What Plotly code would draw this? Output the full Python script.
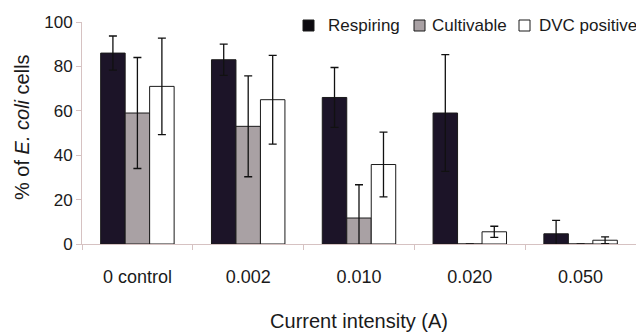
import plotly.graph_objects as go

categories = ["0 control", "0.002", "0.010", "0.020", "0.050"]
respiring = [86, 83, 66, 59, 4.6]
respiring_err = [7.7, 7, 13.5, 26.3, 6]
cultivable = [59, 53, 11.7, 0, 0]
cultivable_err = [25, 22.7, 15, 0, 0]
dvc_positive = [71, 65, 35.8, 5.5, 1.7]
dvc_err = [21.7, 20, 14.6, 2.5, 1.5]
y_ticks = [0, 20, 40, 60, 80, 100]
series_names = ["Respiring", "Cultivable", "DVC positive"]

FONT = "Liberation Sans, Arial, sans-serif"
TXT = "#1a1a1a"
AXC = "#d6c2c2"
COLORS = ["#1c1428", "#a9a1a4", "#ffffff"]
LEG_COLORS = ["#0c0a10", "#a9a1a4", "#ffffff"]

W, H = 636, 332
ML, MR, MT, MB = 82, 0, 22, 88
PW, PH = W - ML - MR, H - MT - MB

def px_x(px):
    return (px - ML) / PW

def px_y(py):
    return (H - MB - py) / PH

def err(vals):
    return dict(type="data", array=vals, visible=True, color="#111111",
                thickness=1.3, width=4)

fig = go.Figure()
for name, vals, errs, col in zip(series_names,
                                 [respiring, cultivable, dvc_positive],
                                 [respiring_err, cultivable_err, dvc_err],
                                 COLORS):
    fig.add_trace(go.Bar(name=name, x=categories, y=vals,
                         marker=dict(color=col, line=dict(color="#1a1a1a", width=1)),
                         error_y=err(errs), showlegend=False))

# legend drawn as shapes + text to match the reference spacing
leg_sq_left = [303, 414, 519]
leg_txt_left = [326, 430, 537]
leg_cy = 25.5
shapes = []
annotations = []
for name, col, sx, tx in zip(series_names, LEG_COLORS, leg_sq_left, leg_txt_left):
    shapes.append(dict(type="rect", xref="paper", yref="paper",
                       x0=px_x(sx), x1=px_x(sx + 11),
                       y0=px_y(leg_cy + 5.5), y1=px_y(leg_cy - 5.5),
                       fillcolor=col, line=dict(color="#1a1a1a", width=1)))
    annotations.append(dict(xref="paper", yref="paper", x=px_x(tx), y=px_y(leg_cy),
                            xanchor="left", yanchor="middle", showarrow=False,
                            text=name, font=dict(size=17, family=FONT, color=TXT)))

# y-axis title
annotations.append(dict(xref="paper", yref="paper", x=px_x(22), y=px_y(127),
                        xanchor="center", yanchor="middle", showarrow=False,
                        textangle=-90, text="% of <i>E. coli</i> cells",
                        font=dict(size=20, family=FONT, color=TXT)))

fig.update_layout(
    width=W, height=H,
    margin=dict(l=ML, r=MR, t=MT, b=MB),
    paper_bgcolor="white", plot_bgcolor="white",
    barmode="group", bargap=0.337, bargroupgap=0,
    font=dict(family=FONT, color=TXT, size=17),
    showlegend=False,
    shapes=shapes, annotations=annotations,
    xaxis=dict(
        type="category", showline=True, linecolor=AXC, linewidth=1,
        ticks="outside", tickson="boundaries", ticklen=5, tickcolor=AXC,
        tickfont=dict(size=18, family=FONT, color=TXT),
        ticklabelstandoff=16, showgrid=False, zeroline=False,
        title=dict(text="Current intensity (A)", font=dict(size=20, family=FONT, color=TXT),
                   standoff=28),
    ),
    yaxis=dict(
        range=[0, 100], tickvals=y_ticks, showline=True, linecolor=AXC, linewidth=1,
        ticks="outside", ticklen=5, tickcolor=AXC,
        tickfont=dict(size=17, family=FONT, color=TXT),
        showgrid=False, zeroline=False,
    ),
)

fig.write_html("out.html")
